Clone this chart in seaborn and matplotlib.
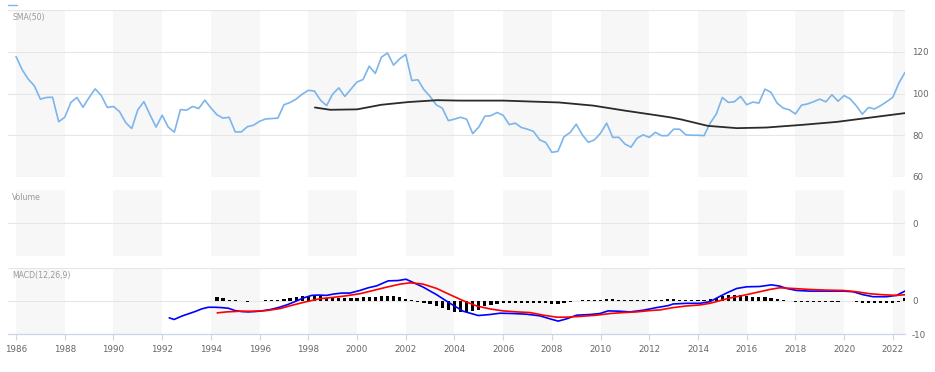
import numpy as np
import pandas as pd
import matplotlib
matplotlib.use("Agg")
import matplotlib.pyplot as plt
from matplotlib.lines import Line2D
import seaborn as sns

# ---------------- data ----------------
start_year = 1986.0            # first quarterly observation
price = [117.7, 111.4, 106.9, 103.7, 97.3, 98.1, 98.2, 86.5, 88.6, 95.7,
         98.1, 93.4, 98.1, 102.2, 99.0, 93.3, 93.8, 91.3, 86.1, 83.2,
         92.2, 96.1, 89.8, 83.9, 89.6, 83.9, 81.5, 92.3, 92.0, 93.8,
         92.8, 96.8, 93.1, 89.8, 88.2, 88.6, 81.6, 81.6, 84.1, 84.8,
         86.7, 87.8, 88.0, 88.2, 94.6, 95.7, 97.3, 99.7, 101.5, 101.2,
         96.8, 94.2, 99.7, 102.7, 98.6, 102.1, 105.5, 106.7, 113.1, 109.6,
         117.4, 119.4, 113.6, 116.6, 118.7, 106.2, 106.6, 101.8, 98.6, 94.6,
         93.0, 87.0, 87.7, 88.6, 87.7, 80.8, 83.9, 89.1, 89.4, 90.9,
         89.6, 85.1, 85.8, 83.7, 82.9, 81.8, 77.8, 76.5, 71.8, 72.3,
         79.3, 81.3, 85.3, 80.2, 76.6, 77.8, 81.0, 85.8, 79.0, 79.0,
         75.8, 74.3, 78.6, 80.2, 79.0, 81.4, 79.8, 79.8, 82.9, 82.9,
         80.2, 80.0, 80.0, 79.8, 85.8, 90.1, 98.1, 95.7, 96.1, 98.6,
         94.6, 95.9, 95.4, 102.1, 100.5, 95.4, 93.0, 92.2, 90.2, 94.4,
         95.0, 96.1, 97.3, 96.0, 99.4, 96.3, 99.0, 97.4, 94.1, 90.1,
         93.3, 92.6, 94.2, 96.1, 98.2, 105.0, 110.1]

sma_year = [1998.27, 1998.9, 2000.0, 2001.0, 2002.1, 2003.3, 2004.2, 2006.0,
            2008.3, 2009.7, 2011.0, 2012.4, 2012.85, 2013.3, 2014.4, 2015.6,
            2016.8, 2018.3, 2019.7, 2021.1, 2022.5]
sma_val = [93.3, 92.2, 92.4, 94.6, 95.9, 96.8, 96.6, 96.6,
           95.7, 94.2, 91.8, 89.4, 88.6, 87.6, 84.5, 83.4,
           83.7, 85.0, 86.4, 88.5, 90.6]

macd_year = [1992.29, 1992.49, 1992.80, 1993.07, 1993.35, 1993.62, 1993.89, 1994.17,
             1994.44, 1994.72, 1994.99, 1995.27, 1995.54, 1995.81, 1996.09, 1996.43,
             1996.77, 1997.11, 1997.45, 1997.79, 1998.14, 1998.41, 1998.75, 1999.03,
             1999.37, 1999.71, 2000.12, 2000.46, 2000.81, 2001.28, 2001.69, 2002.01,
             2002.31, 2002.72, 2003.27, 2003.82, 2004.36, 2004.98, 2005.46, 2005.87,
             2006.41, 2006.96, 2007.51, 2007.92, 2008.26, 2008.61, 2009.02, 2009.56,
             2009.97, 2010.31, 2010.79, 2011.21, 2011.75, 2012.30, 2012.78, 2012.98,
             2013.53, 2014.08, 2014.49, 2014.90, 2015.17, 2015.59, 2016.00, 2016.54,
             2017.02, 2017.36, 2017.64, 2018.05, 2018.59, 2019.28, 2019.96, 2020.37,
             2020.78, 2021.19, 2021.74, 2022.15, 2022.5]
macd_val = [-5.1, -5.6, -4.6, -3.9, -3.2, -2.4, -1.9, -1.9,
            -2.0, -2.2, -2.9, -3.2, -3.3, -3.2, -3.0, -2.6,
            -2.0, -1.2, -0.2, 0.9, 1.7, 1.8, 1.7, 2.1,
            2.4, 2.4, 3.2, 4.0, 4.6, 6.1, 6.2, 6.6,
            5.6, 4.2, 1.9, -0.7, -3.1, -4.4, -4.1, -3.7,
            -3.8, -4.0, -4.5, -5.4, -6.1, -5.4, -4.3, -4.1,
            -3.8, -3.0, -3.1, -3.3, -2.8, -2.0, -1.4, -0.9,
            -0.7, -0.7, -0.2, 1.4, 2.4, 3.8, 4.3, 4.4,
            4.9, 4.5, 3.8, 3.2, 3.0, 3.0, 3.0, 2.8,
            1.9, 1.3, 1.3, 1.7, 3.0]

signal_year = [1994.26, 1994.65, 1995.20, 1995.74, 1996.29, 1996.84, 1997.38, 1997.93,
               1998.48, 1999.03, 1999.58, 2000.12, 2000.67, 2001.22, 2001.76, 2002.17,
               2002.51, 2002.72, 2003.27, 2003.82, 2004.36, 2004.91, 2005.46, 2006.00,
               2006.55, 2007.10, 2007.65, 2008.20, 2008.61, 2009.29, 2009.84, 2010.38,
               2010.93, 2011.48, 2012.03, 2012.44, 2012.98, 2013.53, 2014.08, 2014.49,
               2014.90, 2015.31, 2015.86, 2016.41, 2016.95, 2017.36, 2017.91, 2018.59,
               2019.28, 2019.96, 2020.51, 2021.06, 2021.60, 2022.15, 2022.5]
signal_val = [-3.6, -3.3, -3.1, -3.1, -2.9, -2.3, -1.2, -0.2,
              0.7, 1.1, 1.6, 2.2, 3.2, 4.2, 5.1, 5.5,
              5.3, 5.1, 3.8, 1.9, 0.1, -1.5, -2.4, -3.0,
              -3.3, -3.5, -4.3, -4.9, -4.9, -4.6, -4.3, -3.8,
              -3.5, -3.3, -2.9, -2.7, -2.0, -1.5, -1.2, -0.7,
              0.1, 0.9, 1.7, 2.6, 3.5, 4.0, 3.8, 3.5,
              3.3, 3.2, 2.8, 2.2, 1.9, 1.7, 1.9]

hist_start_year = 1994.25
hist_val = [1.35, 1.0, 0.4, 0.2, 0.05, -0.3, 0.05, 0.1, 0.2, 0.3,
            0.4, 0.6, 0.9, 1.1, 1.4, 1.6, 1.8, 1.5, 1.0, 0.9,
            0.9, 0.8, 0.9, 1.0, 1.1, 1.2, 1.3, 1.4, 1.6, 1.4,
            1.2, 0.6, 0.2, -0.3, -0.5, -1.0, -1.5, -2.2, -2.8, -3.3,
            -3.2, -3.2, -3.0, -2.6, -1.6, -1.3, -0.9, -0.6, -0.6, -0.5,
            -0.5, -0.5, -0.5, -0.6, -0.6, -0.8, -0.8, -0.5, -0.2, 0.1,
            0.2, 0.2, 0.2, 0.3, 0.7, 0.6, 0.3, 0.2, 0.2, 0.3,
            0.4, 0.4, 0.4, 0.4, 0.5, 0.5, 0.4, 0.4, 0.3, 0.3,
            0.4, 0.6, 1.0, 1.6, 1.8, 1.8, 1.7, 1.6, 1.3, 1.1,
            1.2, 1.0, 0.5, 0.2, 0.0, -0.3, -0.3, -0.3, -0.3, -0.3,
            -0.3, -0.2, -0.2, 0.0, -0.1, -0.4, -0.6, -0.7, -0.7, -0.6,
            -0.6, -0.5, -0.3, 0.9]

x_ticks = list(range(1986, 2023, 2))
band_starts = list(range(1986, 2023, 4))
price_ticks = [60, 80, 100, 120, 140]
price_labels = ["60", "80", "100", "120", ""]
macd_ticks = [-10, 0, 10]
macd_labels = ["-10", "0", ""]
panel_titles = ["SMA(50)", "Volume", "MACD(12,26,9)"]

# ---------------- frames ----------------
price_df = pd.DataFrame({"year": start_year + np.arange(len(price)) / 4.0, "value": price})
sma_df = pd.DataFrame({"year": sma_year, "value": sma_val})
macd_df = pd.DataFrame({"year": macd_year, "value": macd_val})
signal_df = pd.DataFrame({"year": signal_year, "value": signal_val})
hist_df = pd.DataFrame({"year": hist_start_year + np.arange(len(hist_val)) / 4.0, "value": hist_val})

# ---------------- style ----------------
sns.set_theme(style="white")
plt.rcParams["font.family"] = ["DejaVu Sans"]

W, H = 935, 372
fig = plt.figure(figsize=(W / 100, H / 100), dpi=100)

def px_axes(top, bottom, left=8, right=905):
    return fig.add_axes([left / W, 1 - bottom / H, (right - left) / W, (bottom - top) / H])

ax1 = px_axes(10, 177)
ax2 = px_axes(190, 256)
ax3 = px_axes(268, 334)

XMIN, XMAX = 1985.67, 2022.5
GRID = "#e6e6e6"
LABEL = "#666666"

for ax in (ax1, ax2, ax3):
    ax.set_xlim(XMIN, XMAX)
    for s in ax.spines.values():
        s.set_visible(False)
    for b in band_starts:
        ax.axvspan(b, b + 2, color="#f7f7f7", lw=0, zorder=0)
    ax.yaxis.tick_right()
    ax.tick_params(axis="y", length=0, pad=5, labelsize=6.3, labelcolor=LABEL)
    ax.yaxis.grid(True, color=GRID, lw=0.8)
    ax.xaxis.grid(False)
    ax.set_axisbelow(True)

# top panel
sns.lineplot(data=price_df, x="year", y="value", ax=ax1, color="#7cb5ec", lw=1.2)
sns.lineplot(data=sma_df, x="year", y="value", ax=ax1, color="#2b2b2b", lw=1.3)
ax1.set_ylim(60, 140)
ax1.set_yticks(price_ticks)
ax1.set_yticklabels(price_labels)
ax1.set_xticks([])
ax1.set_xlabel("")
ax1.set_ylabel("")

# volume panel (empty)
ax2.set_ylim(-1, 1)
ax2.set_yticks([0])
ax2.set_yticklabels(["0"])
ax2.set_xticks([])

# MACD panel
ax3.bar(hist_df["year"], hist_df["value"], width=0.13, color="black",
        edgecolor="none", linewidth=0, zorder=2)
sns.lineplot(data=macd_df, x="year", y="value", ax=ax3, color="#0000ff", lw=1.2, zorder=3)
sns.lineplot(data=signal_df, x="year", y="value", ax=ax3, color="#ff0000", lw=1.2, zorder=3)
ax3.set_ylim(-10, 10)
ax3.set_yticks(macd_ticks)
ax3.set_yticklabels(macd_labels)
ax3.set_xticks(x_ticks)
ax3.set_xticklabels([str(t) for t in x_ticks])
ax3.tick_params(axis="x", bottom=True, length=4, width=0.8, color="#ccd6eb",
                pad=4, labelsize=6.3, labelcolor=LABEL)
ax3.spines["bottom"].set_visible(True)
ax3.spines["bottom"].set_color("#ccd6eb")
ax3.spines["bottom"].set_linewidth(0.9)
ax3.set_xlabel("")
ax3.set_ylabel("")

for ax, t in zip((ax1, ax2, ax3), panel_titles):
    ax.annotate(t, xy=(0, 1), xycoords="axes fraction", xytext=(3, -2),
                textcoords="offset points", ha="left", va="top",
                fontsize=5.6, color="#999999")

# small legend marker at top-left
fig.add_artist(Line2D([8 / W, 17 / W], [1 - 5 / H, 1 - 5 / H], color="#7cb5ec", lw=1.0))

fig.savefig("out.png", dpi=100)
